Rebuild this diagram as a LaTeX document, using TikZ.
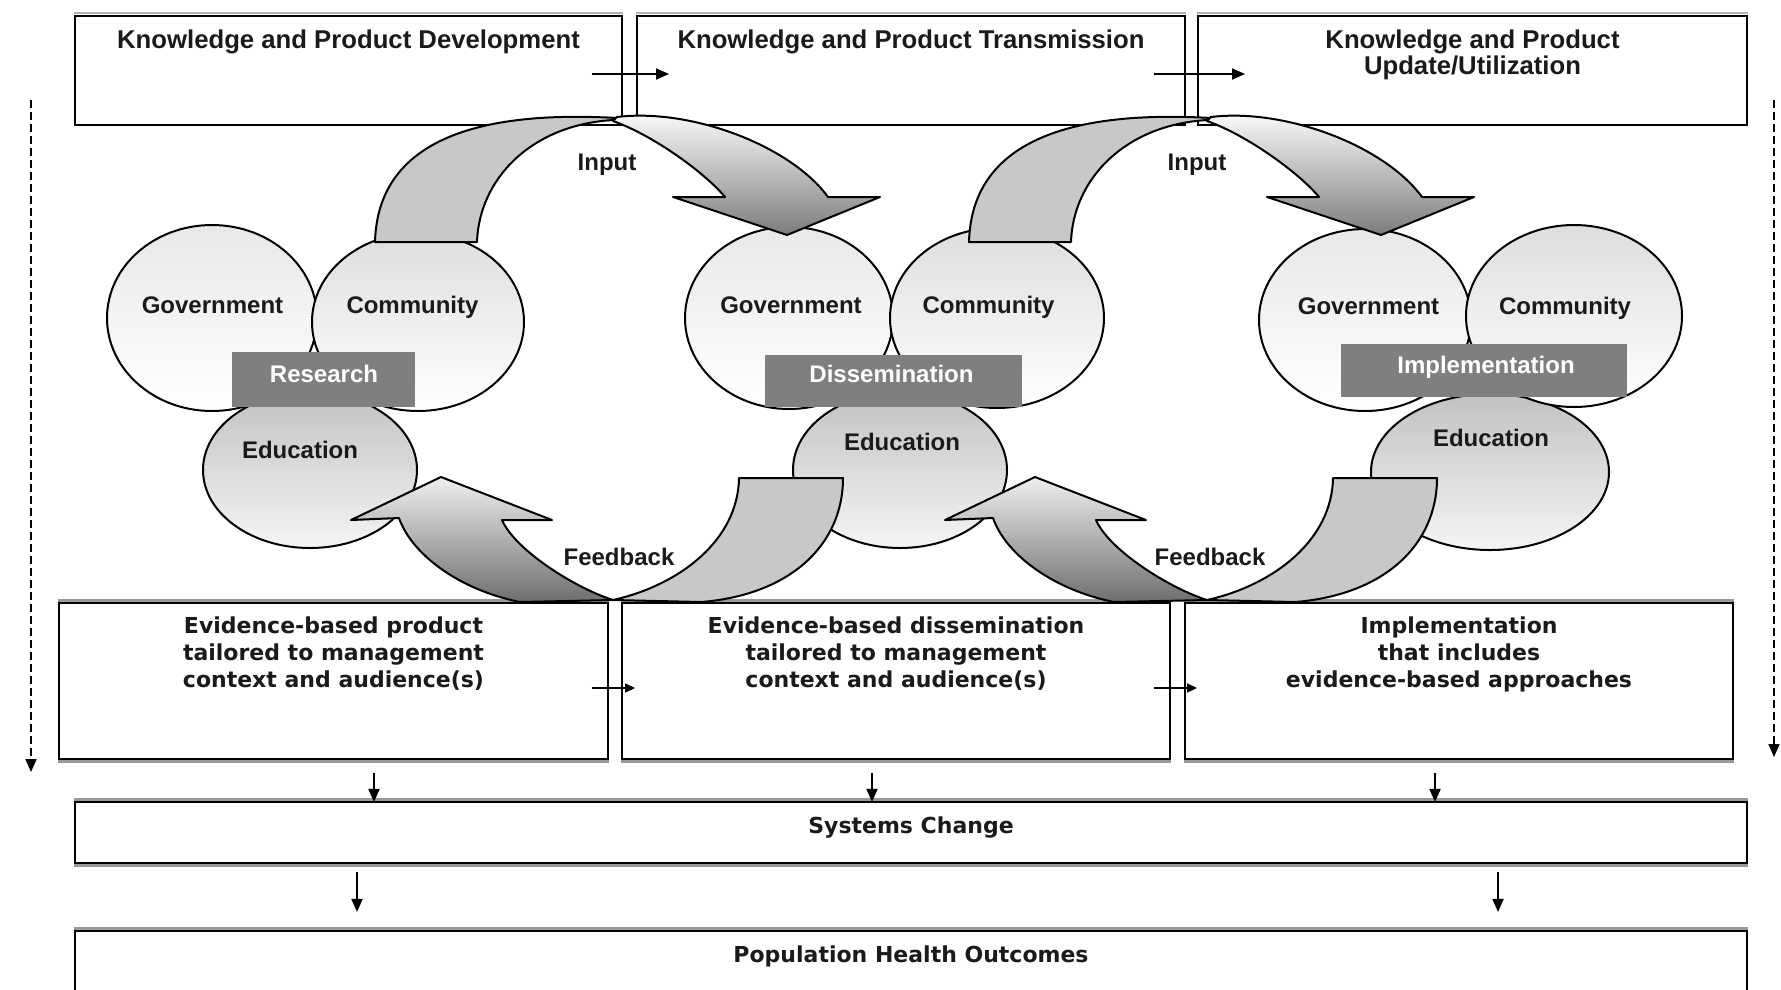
\documentclass[tikz,border=0pt]{standalone}
\usepackage{fontspec}
\setmainfont{Liberation Sans}
\newfontfamily\dejavu{DejaVu Sans}
\usetikzlibrary{shapes.geometric,arrows.meta}
\definecolor{crescent}{HTML}{C8C8C8}
\definecolor{lblbox}{HTML}{7F7F7F}
\definecolor{txt}{HTML}{1A1A1A}
\definecolor{fbdark}{HTML}{6E6E6E}
\definecolor{indark}{HTML}{7C7C7C}
\begin{document}
\begin{tikzpicture}[x=1pt,y=-1pt,
  box/.style={draw=black,line width=1.9pt,rectangle,inner sep=0pt,fill=white},
  band/.style={line width=3pt,draw=gray!80},
  thinband/.style={line width=2pt,draw=gray!60},
  toptext/.style={font=\fontsize{25.7}{26}\selectfont\bfseries,text=txt,align=center,inner sep=0pt},
  ovaltext/.style={font=\fontsize{24}{26}\selectfont\bfseries,text=txt,inner sep=0pt},
  lbltext/.style={font=\fontsize{24}{26}\selectfont\bfseries,text=white,inner sep=0pt},
  bottext/.style={font=\dejavu\fontsize{22}{27}\selectfont\bfseries,text=txt,align=center,inner sep=0pt},
  oval/.style={ellipse,draw=black,line width=2pt,inner sep=0pt},
  govoval/.style={oval,top color=gray!18,bottom color=white},
  comoval/.style={oval,top color=gray!26,bottom color=white},
  eduoval/.style={oval,top color=gray!48,bottom color=white!96!black},
  lbl/.style={rectangle,fill=lblbox,inner sep=0pt},
  arr/.style={line width=1.8pt,-{Triangle[length=13pt,width=11pt]}},
  smallarr/.style={line width=1.6pt,-{Triangle[length=10pt,width=9pt]}},
  dasharr/.style={line width=1.6pt,dash pattern=on 8pt off 4pt,-{Triangle[length=13pt,width=11pt]}},
  bigarrow/.style={draw=black,line width=2pt,line join=round},
]
\useasboundingbox (0,0) rectangle (1781,989);
\fill[white] (0,0) rectangle (1781,989);

% ---------- top boxes ----------
\node[box, minimum width=547, minimum height=109] (kpd) at (348.5,70.5) {};
\node[box, minimum width=548, minimum height=109] (kpt) at (911,70.5) {};
\node[box, minimum width=549, minimum height=109] (kpu) at (1472.5,70.5) {};
\foreach \b in {kpd,kpt,kpu}{
  \draw[thinband] ([yshift=1.8pt]\b.north west) -- ([yshift=1.8pt]\b.north east);
}
\node[toptext, anchor=base] (kpdt) at (348.5,48) {Knowledge and Product Development};
\node[toptext, anchor=base] (kptt) at (911,48) {Knowledge and Product Transmission};
\node[toptext, anchor=north] (kput) at (1472.5,30) {Knowledge and Product\\Update/Utilization};
\draw[arr] ([xshift=-31pt,yshift=-3.5pt]kpd.east) -- ([xshift=33pt,yshift=-3.5pt]kpt.west);
\draw[arr] ([xshift=-32pt,yshift=-3.5pt]kpt.east) -- ([xshift=48pt,yshift=-3.5pt]kpu.west);

% ---------- bottom boxes ----------
\node[box, minimum width=549, minimum height=156] (eb1) at (333.5,681) {};
\node[box, minimum width=548, minimum height=156] (eb2) at (896,681) {};
\node[box, minimum width=548, minimum height=156] (eb3) at (1459,681) {};
\foreach \b in {eb1,eb2,eb3}{
  \draw[band] ([yshift=1.8pt]\b.north west) -- ([yshift=1.8pt]\b.north east);
  \draw[band] ([yshift=-1.8pt]\b.south west) -- ([yshift=-1.8pt]\b.south east);
}
\node[bottext, anchor=north] (eb1t) at (333.5,617) {Evidence-based product\\tailored to management\\context and audience(s)};
\node[bottext, anchor=north] (eb2t) at (896,617) {Evidence-based dissemination\\tailored to management\\context and audience(s)};
\node[bottext, anchor=north] (eb3t) at (1459,617) {Implementation\\that includes\\evidence-based approaches};
\draw[smallarr] ([xshift=-17pt,yshift=-7pt]eb1.east) -- ([xshift=14pt,yshift=-7pt]eb2.west);
\draw[smallarr] ([xshift=-17pt,yshift=-7pt]eb2.east) -- ([xshift=13pt,yshift=-7pt]eb3.west);

% ---------- systems / population ----------
\node[box, minimum width=1672, minimum height=61] (sys) at (911,832.5) {};
\node[box, minimum width=1672, minimum height=120] (pop) at (911,991) {};
\draw[band] ([yshift=1.8pt]sys.north west) -- ([yshift=1.8pt]sys.north east);
\draw[band] ([yshift=-1.8pt]sys.south west) -- ([yshift=-1.8pt]sys.south east);
\draw[band] ([yshift=1.8pt]pop.north west) -- ([yshift=1.8pt]pop.north east);
\node[bottext, anchor=base] (syst) at (911,833) {Systems Change};
\node[bottext, anchor=base] (popt) at (911,962) {Population Health Outcomes};

\draw[arr] ([xshift=40.5pt,yshift=-13pt]eb1.south) -- ++(0,29);
\draw[arr] ([xshift=-24pt,yshift=-13pt]eb2.south) -- ++(0,29);
\draw[arr] ([xshift=-24pt,yshift=-13pt]eb3.south) -- ++(0,29);
\draw[arr] ([xshift=-554pt,yshift=-8pt]sys.south) -- ++(0,40);
\draw[arr] ([xshift=587pt,yshift=-8pt]sys.south) -- ++(0,40);

% ---------- dashed side arrows ----------
\coordinate (dla) at (31,100);
\coordinate (dlb) at (31,772);
\coordinate (dra) at (1774,100);
\coordinate (drb) at (1774,757);
\draw[dasharr] (dla) -- (dlb);
\draw[dasharr] (dra) -- (drb);

% ---------- cluster 1 ----------
\node[eduoval, minimum width=214, minimum height=156] (ed1) at (310,470) {};
\node[govoval, minimum width=210, minimum height=186] (gv1) at (212,318) {};
\node[comoval, minimum width=212, minimum height=178] (cm1) at (418,322) {};
\node[lbl, minimum width=183, minimum height=55] (rs1) at (323.5,379.5) {};
\node[ovaltext, anchor=base] (gv1t) at (212.5,313) {Government};
\node[ovaltext, anchor=base] (cm1t) at (412.5,313) {Community};
\node[ovaltext, anchor=base] (ed1t) at (300,458) {Education};
\node[lbltext, anchor=base] (rs1t) at (324,382) {Research};

% ---------- cluster 2 ----------
\node[eduoval, minimum width=214, minimum height=156] (ed2) at (900,470) {};
\node[govoval, minimum width=208, minimum height=182] (gv2) at (789,318) {};
\node[comoval, minimum width=214, minimum height=180] (cm2) at (997,318) {};
\node[lbl, minimum width=257, minimum height=52] (rs2) at (893.5,381) {};
\node[ovaltext, anchor=base] (gv2t) at (791,313) {Government};
\node[ovaltext, anchor=base] (cm2t) at (988.5,313) {Community};
\node[ovaltext, anchor=base] (ed2t) at (902,450) {Education};
\node[lbltext, anchor=base] (rs2t) at (891.5,382) {Dissemination};

% ---------- cluster 3 ----------
\node[eduoval, minimum width=238, minimum height=156] (ed3) at (1490,472) {};
\node[govoval, minimum width=212, minimum height=182] (gv3) at (1365,320) {};
\node[comoval, minimum width=216, minimum height=182] (cm3) at (1574,316) {};
\node[lbl, minimum width=286, minimum height=53] (rs3) at (1484,370.5) {};
\node[ovaltext, anchor=base] (gv3t) at (1368.5,314) {Government};
\node[ovaltext, anchor=base] (cm3t) at (1565,314) {Community};
\node[ovaltext, anchor=base] (ed3t) at (1491,446) {Education};
\node[lbltext, anchor=base] (rs3t) at (1486,373) {Implementation};

% ---------- big curved arrows ----------
\foreach \s in {0,594}{
\begin{scope}[shift={(\s,0)}]
  % input: left crescent
  \path[bigarrow, fill=crescent] (375,242) -- (477,242)
     .. controls (479,180) and (530,125) .. (613,120)
     -- (617,118) .. controls (510,112) and (378,125) .. (375,242) -- cycle;
  % input: right arrow
  \path[bigarrow, top color=white, bottom color=indark] (613,121) -- (617,117)
     .. controls (690,108) and (790,145) .. (828,197)
     -- (880,197) -- (787,235) -- (673,197) -- (725,197)
     .. controls (706,174) and (655,136) .. (613,121) -- cycle;
  % feedback: right crescent
  \path[bigarrow, fill=crescent] (613,600)
     .. controls (680,585) and (738,540) .. (739,478)
     -- (843,478) .. controls (843,545) and (790,595) .. (701,602) -- cycle;
  % feedback: left arrow
  \path[bigarrow, top color=white!94!black, bottom color=fbdark] (613,600)
     .. controls (575,588) and (515,550) .. (502,520)
     -- (552,520) -- (441,477) -- (351,520) -- (399,518)
     .. controls (412,555) and (460,590) .. (520,602) -- cycle;
\end{scope}
}
\node[ovaltext, anchor=base] (in1) at (607,170) {Input};
\node[ovaltext, anchor=base] (in2) at (1197,170) {Input};
\node[ovaltext, anchor=base] (fb1) at (619,565) {Feedback};
\node[ovaltext, anchor=base] (fb2) at (1210,565) {Feedback};
\end{tikzpicture}
\end{document}
